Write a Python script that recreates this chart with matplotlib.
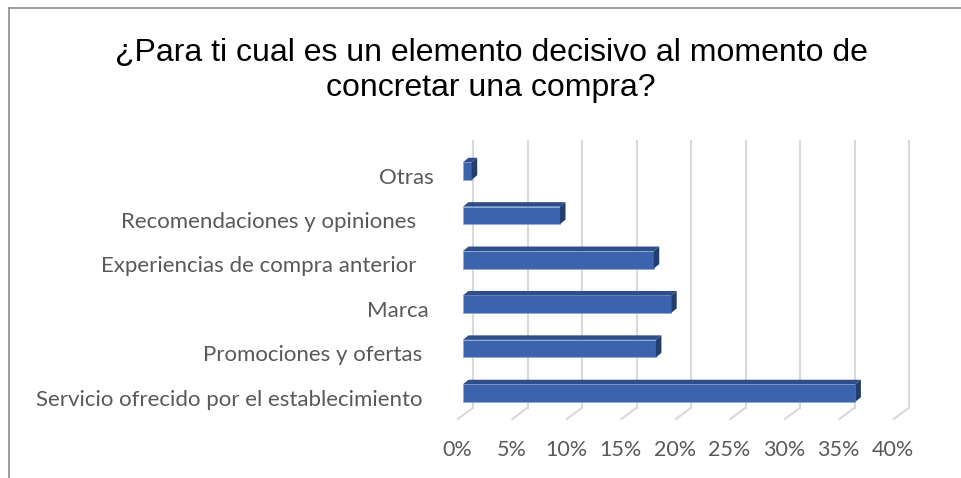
import matplotlib
matplotlib.use("Agg")
import matplotlib.pyplot as plt
from matplotlib.patches import Polygon
from matplotlib.lines import Line2D

# Survey answers, listed from the bottom bar to the top bar
categories = [
    "Servicio ofrecido por el establecimiento",
    "Promociones y ofertas",
    "Marca",
    "Experiencias de compra anterior ",
    "Recomendaciones y opiniones ",
    "Otras",
]
shares = [0.360, 0.177, 0.191, 0.175, 0.089, 0.008]
tick_values = [0.00, 0.05, 0.10, 0.15, 0.20, 0.25, 0.30, 0.35, 0.40]
tick_labels = ["0%", "5%", "10%", "15%", "20%", "25%", "30%", "35%", "40%"]
title = "¿Para ti cual es un elemento decisivo al momento de\nconcretar una compra?"

# Small horizontal nudges (px) for the category labels
label_nudge_px = [0, 0, 7, 0, 0, 12]

W, H, DPI = 961, 478, 100
fig = plt.figure(figsize=(W / DPI, H / DPI), dpi=DPI)
fig.patch.set_facecolor("white")

# Plot area of the bars' front plane, in pixels
left_px, right_px = 463, 899
top_px, bottom_px = 148.8, 415.2
ax = fig.add_axes([left_px / W, (H - bottom_px) / H,
                   (right_px - left_px) / W, (bottom_px - top_px) / H])
ax.set_xlim(0, 0.40)
ax.set_ylim(-0.5, len(categories) - 0.5)
ax.axis("off")

# pixel -> data scale factors
sx = (right_px - left_px) / 0.40
sy = (bottom_px - top_px) / len(categories)

grid_c = "#D9D9D9"
back_dx, back_dy = 10, 7.5      # back wall offset (px, up positive)
front_dx, front_dy = -6, -4.5   # front floor edge offset
for t in tick_values:
    xb = t + back_dx / sx
    ax.add_line(Line2D([xb, xb], [-0.5 + back_dy / sy, len(categories) - 0.5 + back_dy / sy],
                       color=grid_c, lw=1.5, zorder=1, clip_on=False))
    ax.add_line(Line2D([xb, t + front_dx / sx],
                       [-0.5 + back_dy / sy, -0.5 + front_dy / sy],
                       color=grid_c, lw=1.5, zorder=1, clip_on=False,
                       solid_capstyle="butt"))

# 3D-style bars: front face + top face + side face
front_c, top_c, side_c = "#3B64AD", "#2D4E8A", "#233E6E"
h = 0.394
ddx, ddy = 5.5 / sx, 4.5 / sy
ypos = list(range(len(categories)))
ax.barh(ypos, shares, height=h, color=front_c, edgecolor="#8EA9DB",
        linewidth=0.5, zorder=3)
for y, v in zip(ypos, shares):
    yt, yb = y + h / 2, y - h / 2
    ax.add_patch(Polygon([(0, yt), (v, yt), (v + ddx, yt + ddy), (ddx, yt + ddy)],
                         closed=True, facecolor=top_c, edgecolor="none", zorder=3,
                         clip_on=False))
    ax.add_patch(Polygon([(v, yb), (v, yt), (v + ddx, yt + ddy), (v + ddx, yb + ddy)],
                         closed=True, facecolor=side_c, edgecolor="none", zorder=3,
                         clip_on=False))

label_font = "Lato"
text_c = "#595959"
for y, name, nudge in zip(ypos, categories, label_nudge_px):
    ax.text((-41 + nudge) / sx, y - 6.5 / sy, name, ha="right", va="center",
            fontsize=16, color=text_c, family=label_font, clip_on=False)

label_y = -0.5 - (450 - bottom_px) / sy
for t, lab in zip(tick_values, tick_labels):
    ax.text(t + front_dx / sx, label_y, lab, ha="center", va="center",
            fontsize=15.5, color=text_c, family=label_font, clip_on=False)

fig.text(491 / W, 1 - 70.5 / H, title, ha="center", va="center",
         fontsize=23, family="Liberation Sans", color="black", linespacing=1.2)

# Chart frame (top and left edges)
frame_c = "#8C8C8C"
fig.add_artist(Line2D([9 / W, 1], [1 - 8 / H, 1 - 8 / H], transform=fig.transFigure,
                      color=frame_c, lw=1.2))
fig.add_artist(Line2D([9 / W, 9 / W], [0, 1 - 8 / H], transform=fig.transFigure,
                      color=frame_c, lw=1.2))

fig.savefig("out.png", dpi=DPI, facecolor="white")
